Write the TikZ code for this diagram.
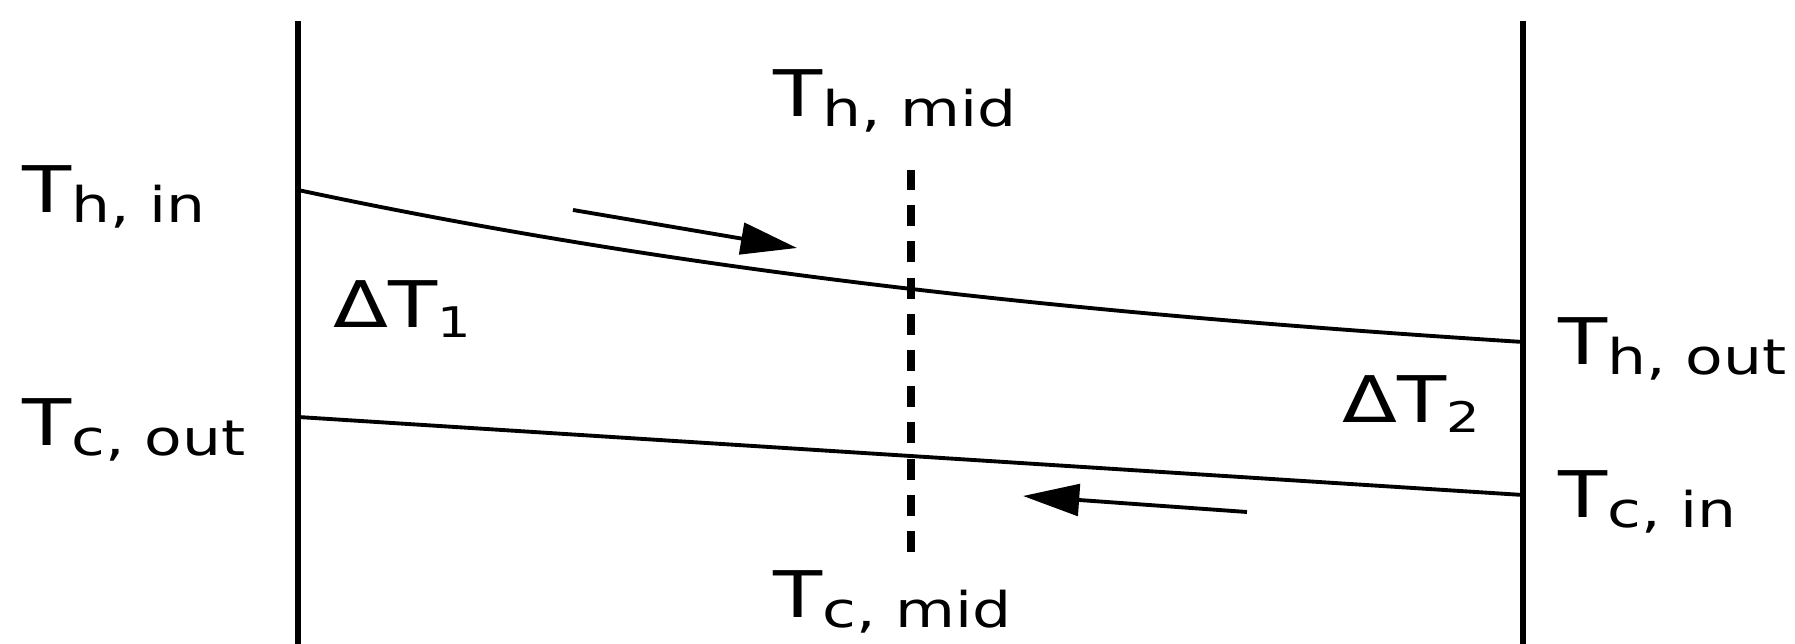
\documentclass[tikz,border=0pt]{standalone}
\usepackage{fontspec}
\setmainfont{DejaVu Sans}
\usepackage{graphicx}
\usetikzlibrary{arrows.meta}
\newcommand{\templab}[3][14]{\scalebox{1.25}[1]{#2\raisebox{-2.8pt}{\fontsize{#1}{16}\selectfont #3}}}

\begin{document}
\begin{tikzpicture}[
  wallline/.style={line width=1.8pt},
  flowline/.style={line width=1.1pt},
  flowarrow/.style={line width=1.1pt, -{Triangle[length=16pt,width=9pt]}},
  midline/.style={line width=2pt, dash pattern=on 6pt off 4.3pt},
  lbl/.style={anchor=base west, inner sep=0pt, font=\fontsize{18.3}{22}\selectfont}]
\useasboundingbox (0,0) rectangle (17.95,6.44);
\coordinate (lt) at (2.98,6.23);
\coordinate (lb) at (2.98,0);
\coordinate (rt) at (15.23,6.23);
\coordinate (rb) at (15.23,0);
\coordinate (hin) at (2.98,4.54);
\coordinate (hout) at (15.23,3.02);
\coordinate (cout) at (2.98,2.27);
\coordinate (cin) at (15.23,1.49);
\coordinate (mtop) at (9.11,4.74);
\coordinate (mbot) at (9.11,0.92);
\coordinate (ha) at (5.73,4.34);
\coordinate (hb) at (7.97,3.96);
\coordinate (ca) at (12.47,1.32);
\coordinate (cb) at (10.23,1.48);
\draw[wallline] (lb) -- (lt);
\draw[wallline] (rb) -- (rt);
\draw[flowline] (hin) .. controls +(4.08,-0.87) and +(-4.08,0.26) .. (hout);
\draw[flowline] (cout) -- (cin);
\draw[midline] (mbot) -- (mtop);
\draw[flowarrow] (ha) -- (hb);
\draw[flowarrow] (ca) -- (cb);
\node[lbl] (thin) at (0.22,4.31) {\templab{T}{h, in}};
\node[lbl] (tcout) at (0.22,1.98) {\templab{T}{c, out}};
\node[lbl] (dtone) at (3.33,3.16) {\templab[12]{ΔT}{1}};
\node[lbl] (thmid) at (7.73,5.27) {\templab{T}{h, mid}};
\node[lbl] (tcmid) at (7.73,0.26) {\templab{T}{c, mid}};
\node[lbl] (thout) at (15.58,2.79) {\templab{T}{h, out}};
\node[lbl] (dttwo) at (13.42,2.21) {\templab[12]{ΔT}{2}};
\node[lbl] (tcin) at (15.58,1.26) {\templab{T}{c, in}};
\end{tikzpicture}
\end{document}
